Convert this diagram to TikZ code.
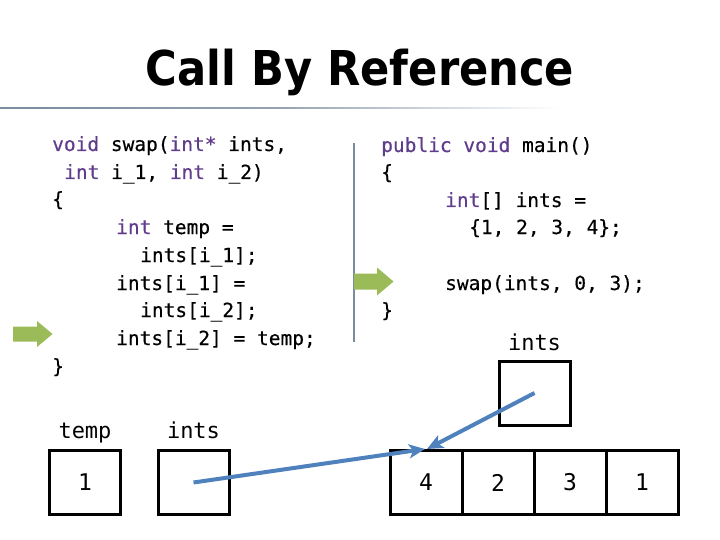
\documentclass[tikz,border=0pt]{standalone}
\usepackage{fontspec}
\setmainfont{DejaVu Sans}
\newfontfamily\codefont[FakeBold=0.4]{DejaVu Sans Mono}
\newfontfamily\labfont{DejaVu Sans Mono}
\newfontfamily\titlefont[FakeStretch=0.9]{DejaVu Sans}
\usetikzlibrary{arrows.meta}
\definecolor{kwcol}{RGB}{96,60,140}
\definecolor{arrowgreen}{RGB}{155,187,89}
\definecolor{ptrblue}{RGB}{79,129,189}
\definecolor{rulegray}{RGB}{122,140,158}
\newcommand{\kwd}[1]{\textcolor{kwcol}{#1}}
\begin{document}
\begin{tikzpicture}[x=1pt,y=-1pt,
  code/.style={anchor=base west, inner sep=0pt, font=\codefont\fontsize{19.5}{20}\selectfont},
  lab/.style={anchor=base, inner sep=0pt, font=\labfont\fontsize{22}{24}\selectfont},
  cell/.style={draw, line width=3pt, minimum width=71pt, minimum height=64pt, inner sep=0pt, font=\labfont\fontsize{23}{24}\selectfont},
  ptr/.style={draw=ptrblue, line width=4pt, -{Stealth[length=16pt,width=14pt,inset=4pt]}},
  marker/.style={fill=arrowgreen, draw=none}]
\useasboundingbox (0,0) rectangle (720,540);
% title
\node[anchor=base, inner sep=0pt, font=\titlefont\bfseries\fontsize{48}{50}\selectfont] (title) at (360,86) {Call By Reference};
\shade[left color=rulegray, right color=white, middle color=rulegray!80] (0,107.2) rectangle (560,108.8);
% separator
\draw[rulegray, line width=1.2pt] (354,143) -- (354,342);
% left code
\node[code] (l1) at (52,151) {\kwd{void} swap(\kwd{int*} ints,};
\node[code] (l2) at (64,179) {\kwd{int} i\_1, \kwd{int} i\_2)};
\node[code] (l3) at (52,206) {\{};
\node[code] (l4) at (116,234) {\kwd{int} temp =};
\node[code] (l5) at (140,262) {ints[i\_1];};
\node[code] (l6) at (116,290) {ints[i\_1] =};
\node[code] (l7) at (140,317) {ints[i\_2];};
\node[code] (l8) at (116,345) {ints[i\_2] = temp;};
\node[code] (l9) at (52,373) {\}};
% right code
\node[code] (r1) at (381,152) {\kwd{public void} main()};
\node[code] (r2) at (381,179) {\{};
\node[code] (r3) at (445,207) {\kwd{int}[] ints =};
\node[code] (r4) at (469,234) {\{1, 2, 3, 4\};};
\node[code] (r5) at (445,290) {swap(ints, 0, 3);};
\node[code] (r6) at (381,317) {\}};
% green markers
\path[marker] (13,326.5) -- (37,326.5) -- (37,321) -- (52.5,334) -- (37,347) -- (37,341.5) -- (13,341.5) -- cycle;
\path[marker] (354,273.5) -- (377,273.5) -- (377,267.5) -- (393.5,281.5) -- (377,295.5) -- (377,289.5) -- (354,289.5) -- cycle;
% labels
\node[lab] (ltemp) at (85,438) {temp};
\node[lab] (lints) at (193.5,438) {ints};
\node[lab] (lmints) at (534.5,350) {ints};
% boxes
\node[cell] (tempbox) at (85,482.5) {1};
\node[cell] (intsbox) at (193.5,482.5) {};
\node[cell] (mainbox) at (534.5,393) {};
\node[cell, minimum width=72pt] (a0) at (426,482.5) {4};
\node[cell, minimum width=72pt] (a1) at (498,482.5) {2};
\node[cell, minimum width=72pt] (a2) at (570,482.5) {3};
\node[cell, minimum width=72pt] (a3) at (642,482.5) {1};
% pointers
\coordinate (tip1) at (425,449);
\coordinate (tip2) at (427,449);
\draw[ptr] (intsbox.center) -- (tip1);
\draw[ptr] (mainbox.center) -- (tip2);
\end{tikzpicture}
\end{document}
